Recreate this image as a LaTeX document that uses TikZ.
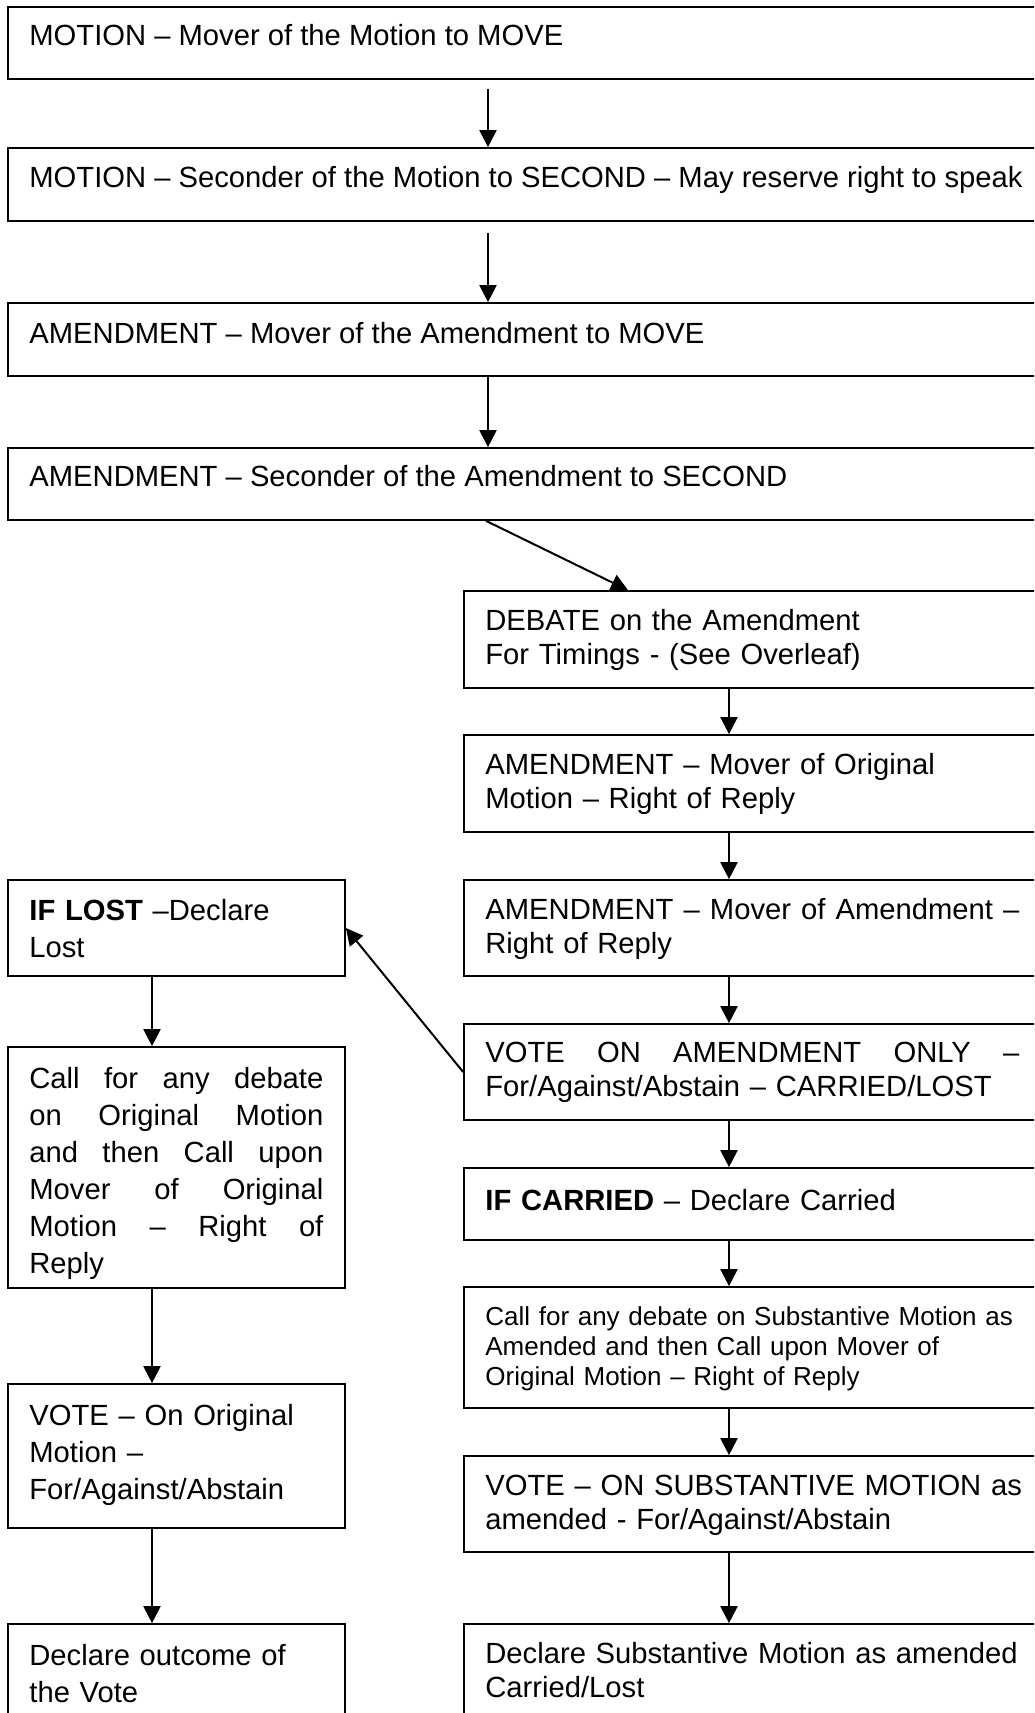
\documentclass[tikz,border=0pt]{standalone}
\usepackage{fontspec}
\setmainfont{Liberation Sans}
\usetikzlibrary{fit,arrows.meta}
\newcommand\mainsz{\fontsize{14.6pt}{17pt}\selectfont}
\newcommand\leftsz{\fontsize{14.6pt}{18.5pt}\selectfont}
\newcommand\smallsz{\fontsize{13pt}{15pt}\selectfont}
\newcommand\rjust[1]{\leavevmode\hbox to 267pt{#1}}
\newcommand\ljust[1]{\leavevmode\hbox to 147pt{#1}}
\begin{document}
\begin{tikzpicture}[x=0.5pt,y=-0.5pt,
  boxst/.style={draw, line width=0.85pt, inner sep=0pt},
  arr/.style={-{Triangle[length=8.5pt,width=8.5pt]}, line width=1pt},
  txt/.style={anchor=base west, inner sep=0pt, align=left, font=\mainsz},
  rtxt/.style={txt, text width=285pt},
  ltxt/.style={txt, text width=155pt, font=\leftsz}]
\useasboundingbox (0,0) rectangle (1034,1713);
\clip (0,0) rectangle (1034,1713);
\fill[white] (0,0) rectangle (1034,1713);
% helper x positions
\coordinate (cx) at (488,0);
\coordinate (rx) at (729,0);
\coordinate (lx) at (152,0);
\coordinate (d1) at (486,0);
\coordinate (d2) at (628,0);
% top boxes
\node[boxst, fit={(8,7) (1060,79)}] (b1) {};
\node[boxst, fit={(8,148) (1060,221)}] (b2) {};
\node[boxst, fit={(8,303) (1060,376)}] (b3) {};
\node[boxst, fit={(8,448) (1060,520)}] (b4) {};
% right column
\node[boxst, fit={(464,591) (1060,688)}] (r1) {};
\node[boxst, fit={(464,735) (1060,832)}] (r2) {};
\node[boxst, fit={(464,880) (1060,976)}] (r3) {};
\node[boxst, fit={(464,1024) (1060,1120)}] (r4) {};
\node[boxst, fit={(464,1168) (1060,1240)}] (r5) {};
\node[boxst, fit={(464,1287) (1060,1408)}] (r6) {};
\node[boxst, fit={(464,1456) (1060,1552)}] (r7) {};
\node[boxst, fit={(464,1624) (1060,1740)}] (r8) {};
% left column
\node[boxst, fit={(8,880) (345,976)}] (l1) {};
\node[boxst, fit={(8,1047) (345,1288)}] (l2) {};
\node[boxst, fit={(8,1384) (345,1528)}] (l3) {};
\node[boxst, fit={(8,1624) (345,1740)}] (l4) {};
% texts
\node[txt] (t1) at (29,45) {MOTION – Mover of the Motion to MOVE};
\node[txt] (t2) at (29,187) {MOTION – Seconder of the Motion to SECOND – May reserve right to speak};
\node[txt] (t3) at (29,343) {AMENDMENT – Mover of the Amendment to MOVE};
\node[txt] (t4) at (29,486) {AMENDMENT – Seconder of the Amendment to SECOND};
\node[rtxt] (tr1) at (485,630) {DEBATE on the Amendment\\For Timings - (See Overleaf)};
\node[rtxt] (tr2) at (485,774) {AMENDMENT – Mover of Original\\Motion – Right of Reply};
\node[rtxt] (tr3) at (485,919) {\rjust{AMENDMENT\hfill–\hfill Mover\hfill of\hfill Amendment\hfill–}\\Right of Reply};
\node[rtxt] (tr4) at (485,1062) {\rjust{VOTE\hfill ON\hfill AMENDMENT\hfill ONLY\hfill –}\\For/Against/Abstain – CARRIED/LOST};
\node[rtxt] (tr5) at (485,1210) {\textbf{IF CARRIED} – Declare Carried};
\node[rtxt, font=\smallsz] (tr6) at (485,1325) {Call for any debate on Substantive Motion as\\Amended and then Call upon Mover of\\Original Motion – Right of Reply};
\node[rtxt] (tr7) at (485,1495) {VOTE – ON SUBSTANTIVE MOTION as\\amended - For/Against/Abstain};
\node[rtxt] (tr8) at (485,1663) {Declare Substantive Motion as amended\\Carried/Lost};
\node[ltxt] (tl1) at (29,920) {\textbf{IF LOST} –Declare\\Lost};
\node[ltxt] (tl2) at (29,1088) {\ljust{Call\hfill for\hfill any\hfill debate}\\\ljust{on\hfill Original\hfill Motion}\\\ljust{and\hfill then\hfill Call\hfill upon}\\\ljust{Mover\hfill of\hfill Original}\\\ljust{Motion\hfill –\hfill Right\hfill of}\\Reply};
\node[ltxt] (tl3) at (29,1425) {VOTE – On Original\\Motion –\\For/Against/Abstain};
\node[ltxt] (tl4) at (29,1665) {Declare outcome of\\the Vote};
% connectors
\draw[arr, shorten <=4.5pt] (b1.south -| cx) -- (b2.north -| cx);
\draw[arr, shorten <=5.5pt] (b2.south -| cx) -- (b3.north -| cx);
\draw[arr] (b3.south -| cx) -- (b4.north -| cx);
\draw[arr] (b4.south -| d1) -- (r1.north -| d2);
\draw[arr] (r1.south -| rx) -- (r2.north -| rx);
\draw[arr] (r2.south -| rx) -- (r3.north -| rx);
\draw[arr] (r3.south -| rx) -- (r4.north -| rx);
\draw[arr] (r4.south -| rx) -- (r5.north -| rx);
\draw[arr] (r5.south -| rx) -- (r6.north -| rx);
\draw[arr] (r6.south -| rx) -- (r7.north -| rx);
\draw[arr] (r7.south -| rx) -- (r8.north -| rx);
\draw[arr] (r4.west) -- (l1.east);
\draw[arr] (l1.south -| lx) -- (l2.north -| lx);
\draw[arr] (l2.south -| lx) -- (l3.north -| lx);
\draw[arr] (l3.south -| lx) -- (l4.north -| lx);
\end{tikzpicture}
\end{document}
